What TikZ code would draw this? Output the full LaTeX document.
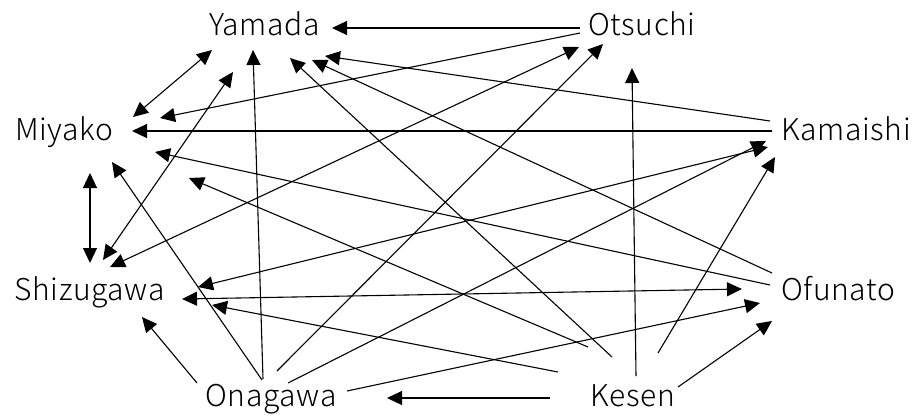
\documentclass[tikz,border=0pt]{standalone}
\usepackage{fontspec}
\IfFontExistsTF{Noto Sans CJK JP Light}
  {\setmainfont{Noto Sans CJK JP Light}[LetterSpace=2]}
  {\setmainfont{Noto Sans CJK JP}[LetterSpace=2]}
\usetikzlibrary{arrows.meta,calc}
\tikzset{
  town/.style={anchor=base, inner sep=0pt, font=\fontsize{30}{36}\selectfont},
  link/.style={line width=1.1pt, -{Triangle[length=15pt,width=14pt]}},
  both/.style={line width=1.1pt, {Triangle[length=15pt,width=14pt]}-{Triangle[length=15pt,width=14pt]}}
}
\begin{document}
\begin{tikzpicture}[x=1pt,y=-1pt]
\useasboundingbox (0,0) rectangle (916,416);
% towns (anchored on their baselines)
\node[town] (yamada)    at (264.5,35) {Yamada};
\node[town] (otsuchi)   at (642,35)   {Otsuchi};
\node[town] (miyako)    at (64,140)   {Miyako};
\node[town] (kamaishi)  at (846,140)  {Kamaishi};
\node[town] (shizugawa) at (89.5,300) {Shizugawa};
\node[town] (ofunato)   at (838,300)  {Ofunato};
\node[town] (onagawa)   at (271,406)  {Onagawa};
\node[town] (kesen)     at (632.5,406){Kesen};
% links into Yamada
\draw[link] ($(otsuchi.base)+(-62,-7)$) -- ($(yamada.base)+(67.5,-7)$);
\draw[both] ($(yamada.base)+(-52.5,15)$) -- ($(miyako.base)+(69,-23)$);
\draw[link] ($(onagawa.base)+(-8,-27)$) -- ($(yamada.base)+(-11.5,15)$);
\draw[link] ($(kesen.base)+(-20.5,-49)$) -- ($(yamada.base)+(25.5,23)$);
\draw[link] ($(ofunato.base)+(-66,-27)$) -- ($(yamada.base)+(47.5,25)$);
\draw[link] ($(kamaishi.base)+(-76,-19)$) -- ($(yamada.base)+(60.5,21)$);
% links into Miyako
\draw[link] ($(otsuchi.base)+(-62,-2)$) -- ($(miyako.base)+(96,-22)$);
\draw[link] ($(kamaishi.base)+(-74,-9)$) -- ($(miyako.base)+(68,-9)$);
\draw[link] ($(ofunato.base)+(-68,-15)$) -- ($(miyako.base)+(91,12)$);
\draw[link] ($(onagawa.base)+(-9,-26)$) -- ($(miyako.base)+(48,22)$);
\draw[link] ($(kesen.base)+(-44.5,-59)$) -- ($(miyako.base)+(125,38)$);
% links with Shizugawa
\draw[both] ($(miyako.base)+(26,33)$) -- ($(shizugawa.base)+(0.5,-37)$);
\draw[both] ($(yamada.base)+(-31.5,37)$) -- ($(shizugawa.base)+(13.5,-40)$);
\draw[both] ($(otsuchi.base)+(-63,12)$) -- ($(shizugawa.base)+(20.5,-33)$);
\draw[both] ($(shizugawa.base)+(108.5,-13)$) -- ($(kamaishi.base)+(-78,7)$);
\draw[both] ($(shizugawa.base)+(92.5,-1)$) -- ($(ofunato.base)+(-96,-11)$);
\draw[link] ($(kesen.base)+(-74.5,-34)$) -- ($(shizugawa.base)+(122.5,5)$);
\draw[link] ($(onagawa.base)+(-74,-23)$) -- ($(shizugawa.base)+(52.5,17)$);
% links into Otsuchi, Kamaishi and Ofunato
\draw[link] ($(onagawa.base)+(6,-35)$) -- ($(otsuchi.base)+(-39,9)$);
\draw[link] ($(kesen.base)+(3.5,-30)$) -- ($(otsuchi.base)+(-10,33)$);
\draw[link] ($(onagawa.base)+(17,-23)$) -- ($(kamaishi.base)+(-80,1)$);
\draw[link] ($(kesen.base)+(25.5,-53)$) -- ($(kamaishi.base)+(-71,17)$);
\draw[link] ($(onagawa.base)+(76,-15)$) -- ($(ofunato.base)+(-78,3)$);
\draw[link] ($(kesen.base)+(45.5,-19)$) -- ($(ofunato.base)+(-66,21)$);
% Kesen to Onagawa
\draw[link] ($(kesen.base)+(-82.5,-8)$) -- ($(onagawa.base)+(116,-8)$);
\end{tikzpicture}
\end{document}
